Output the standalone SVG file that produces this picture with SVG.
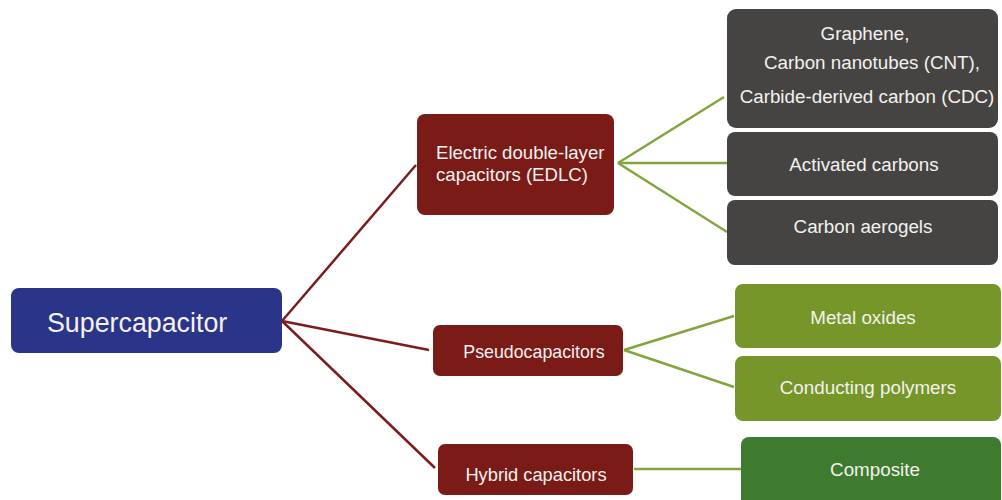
<svg xmlns="http://www.w3.org/2000/svg" width="1002" height="500" viewBox="0 0 1002 500">
<style>
text{font-family:"Liberation Sans",Arial,sans-serif;fill:#f4f1ee}
.c{text-anchor:middle}
.red{fill:#7a1b17}
.gray{fill:#454442}
.olive{fill:#76962a}
.dgreen{fill:#3e7b2e}
.rl{stroke:#7b1d1d;stroke-width:2.5;fill:none}
.gl{stroke:#82a53d;stroke-width:2.5;fill:none}
</style>
<rect width="1002" height="500" fill="#ffffff"/>
<g id="connectors">
<line class="rl" x1="282" y1="321" x2="416" y2="165"/>
<line class="rl" x1="282" y1="321" x2="429" y2="350"/>
<line class="rl" x1="282" y1="321" x2="435" y2="468"/>
<line class="gl" x1="618" y1="163" x2="724" y2="97"/>
<line class="gl" x1="618" y1="163" x2="727" y2="163"/>
<line class="gl" x1="618" y1="163" x2="727" y2="232"/>
<line class="gl" x1="624" y1="350" x2="734" y2="316"/>
<line class="gl" x1="624" y1="350" x2="734" y2="387"/>
<line class="gl" x1="634" y1="469" x2="741" y2="469"/>
</g>
<g id="supercapacitor">
<rect x="11" y="288" width="271" height="65" rx="8" fill="#2a358a"/>
<text x="47" y="332" font-size="26.8">Supercapacitor</text>
</g>
<g id="edlc">
<rect class="red" x="417" y="114" width="197" height="101" rx="8"/>
<text x="436" y="159" font-size="18.6">Electric double-layer</text>
<text x="436" y="181" font-size="18.6">capacitors (EDLC)</text>
</g>
<g id="pseudo">
<rect class="red" x="433" y="325" width="190" height="51" rx="7"/>
<text class="c" x="534" y="358" font-size="17.8">Pseudocapacitors</text>
</g>
<g id="hybrid">
<rect class="red" x="438" y="444" width="195" height="51" rx="7"/>
<text class="c" x="536" y="481" font-size="18.3">Hybrid capacitors</text>
</g>
<g id="carbon-nano">
<rect class="gray" x="727" y="9" width="271" height="119" rx="9"/>
<text class="c" x="865" y="40" font-size="18.8">Graphene,</text>
<text class="c" x="872" y="69" font-size="18.8">Carbon nanotubes (CNT),</text>
<text class="c" x="867" y="103" font-size="18.8">Carbide-derived carbon (CDC)</text>
</g>
<g id="activated">
<rect class="gray" x="727" y="132" width="271" height="64" rx="8"/>
<text class="c" x="864" y="171" font-size="18.8">Activated carbons</text>
</g>
<g id="aerogels">
<rect class="gray" x="727" y="200" width="271" height="65" rx="8"/>
<text class="c" x="863" y="233" font-size="18.8">Carbon aerogels</text>
</g>
<g id="metal-oxides">
<rect class="olive" x="735" y="284" width="266" height="64" rx="8"/>
<text class="c" x="863" y="324" font-size="18.8">Metal oxides</text>
</g>
<g id="polymers">
<rect class="olive" x="735" y="356" width="266" height="65" rx="8"/>
<text class="c" x="868" y="394" font-size="18.8">Conducting polymers</text>
</g>
<g id="composite">
<rect class="dgreen" x="741" y="437" width="260" height="70" rx="8"/>
<text class="c" x="875" y="476" font-size="18.8">Composite</text>
</g>
</svg>
